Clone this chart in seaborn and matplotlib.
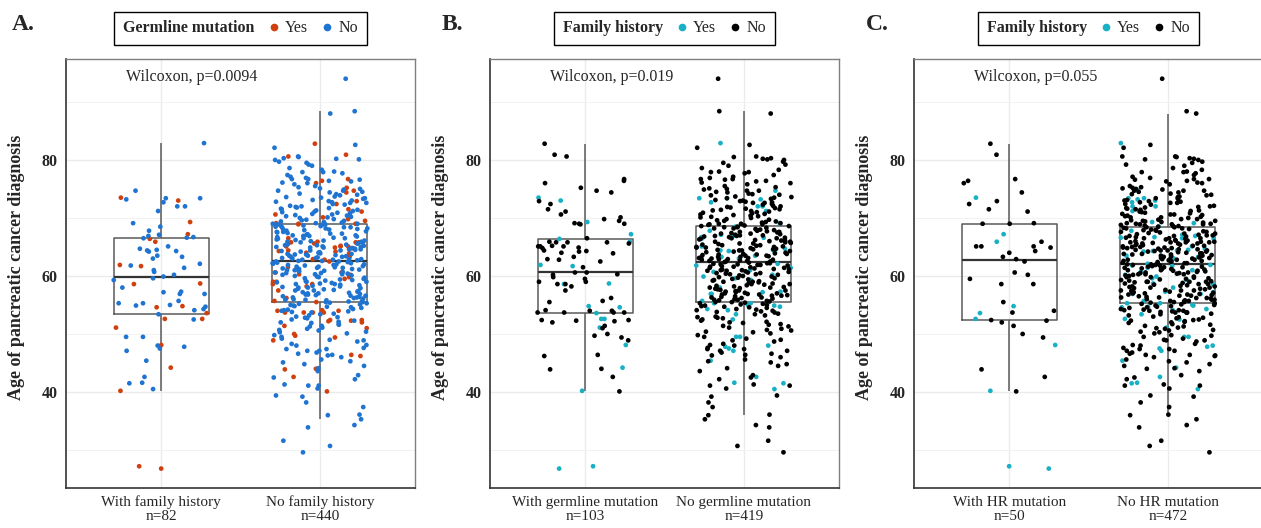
import numpy as np
import pandas as pd
import matplotlib
matplotlib.use("Agg")
import matplotlib.pyplot as plt
import seaborn as sns
from matplotlib.lines import Line2D

# Ages, one list per patient subgroup.
# FH = family history, GM = germline mutation, HR = HR-gene mutation (part of GM)
ages_fh_hr = [73.5, 67.2, 65.9, 54.8, 53.6, 52.6, 48.1, 40.2, 27.2, 26.8]
ages_fh_gm_other = [73.0, 69.3, 66.4, 61.9, 61.7, 58.7, 58.6, 54.6, 52.6, 51.1, 44.2]
ages_fh_no_gm = [82.9, 74.7, 73.4, 73.4, 73.2, 72.7, 72.0, 72.0, 71.2, 69.1,
                 68.5, 67.8, 67.1, 66.9, 66.7, 66.6, 66.5, 65.1, 64.7, 64.5,
                 64.4, 64.3, 64.2, 63.5, 63.3, 63.0, 62.1, 61.8, 61.4, 61.0,
                 60.7, 60.2, 59.9, 59.6, 59.3, 58.0, 57.3, 57.2, 56.9, 56.9,
                 55.7, 55.3, 55.3, 55.0, 54.9, 54.7, 54.3, 54.1, 53.4, 52.5,
                 49.5, 49.5, 48.0, 47.8, 47.5, 47.1, 45.4, 42.6, 41.6, 41.5, 40.5]
ages_hr = [82.8, 80.9, 76.7, 76.4, 76.0, 74.4, 72.9, 72.4, 71.5, 71.1,
           69.1, 69.0, 69.0, 65.9, 65.1, 65.1, 65.1, 64.9, 64.3, 64.0,
           63.3, 62.9, 62.5, 60.6, 60.2, 59.5, 58.6, 58.6, 55.5, 54.0,
           53.7, 52.4, 52.3, 52.0, 51.4, 50.0, 49.4, 43.9, 42.6, 40.1]
ages_gm_other = [80.6, 75.2, 74.7, 70.6, 70.1, 69.8, 69.5, 68.9, 66.5, 65.8,
                 65.8, 65.8, 65.6, 65.2, 64.8, 64.4, 64.2, 63.9, 62.8, 61.5,
                 60.6, 60.3, 59.8, 59.0, 59.0, 58.2, 57.5, 56.2, 55.7, 54.1,
                 54.0, 53.7, 53.7, 53.7, 52.2, 52.4, 51.0, 49.7, 48.9, 46.4,
                 46.2, 44.0]
ages_none = [94.0, 88.4, 88.0,
             82.6, 82.1, 80.6, 80.5, 80.3, 80.1, 80.0, 80.2,
             79.7, 79.5, 79.0, 78.6, 78.3, 77.9, 77.9, 77.7, 77.4, 77.1,
             76.9, 76.7, 76.7, 76.6, 76.3, 76.1, 76.0, 75.8, 75.5, 75.3,
             75.1, 75.0, 79.2, 78.0, 76.4,
             74.9, 74.7, 74.7, 74.5, 74.4, 74.2, 74.1, 73.9, 73.7, 73.6,
             73.4, 73.3, 73.1, 72.9, 72.8, 72.6, 72.6, 72.4, 72.3, 72.1,
             72.0, 71.9, 71.7, 71.6, 71.4, 71.3, 71.1, 71.0, 70.9, 70.8,
             70.6, 70.5, 70.4, 70.3, 70.2, 70.1, 70.0, 73.5, 72.7, 71.8,
             71.2, 70.7, 74.0, 73.0, 71.5,
             69.8, 69.6, 69.5, 69.3, 69.1, 69.0, 68.9, 68.9, 68.7, 68.5,
             68.4, 68.2, 68.1, 68.0, 67.9, 67.7, 67.6, 67.5, 67.3, 67.2,
             67.1, 67.0, 66.9, 66.8, 66.6, 66.5, 66.4, 66.2, 66.1, 66.0,
             65.9, 65.8, 65.6, 65.5, 65.4, 65.3, 65.2, 65.1, 65.0, 65.0,
             69.7, 69.2, 68.8, 68.6, 68.3, 67.8, 67.4, 66.7, 66.3, 65.7,
             69.4, 68.6, 67.9, 67.0, 66.5, 65.9, 65.3, 69.0, 68.2, 67.6,
             66.9, 66.1, 65.6, 68.4, 67.3,
             64.9, 64.8, 64.7, 64.5, 64.4, 64.3, 64.2, 64.0, 63.9, 63.8,
             63.7, 63.6, 63.5, 63.4, 63.3, 63.2, 63.1, 63.0, 62.9, 62.8,
             62.7, 62.6, 62.5, 62.4, 62.3, 62.2, 62.1, 62.0, 61.9, 61.8,
             61.7, 61.6, 61.5, 61.4, 61.3, 61.2, 61.1, 61.0, 60.9, 60.8,
             60.7, 60.6, 60.5, 60.4, 60.3, 60.2, 60.1, 60.0, 64.6, 64.1,
             63.8, 63.3, 62.9, 62.5, 62.0, 61.6, 61.0, 60.5, 64.9, 64.4,
             63.7, 63.1, 62.6, 62.2, 61.4, 60.9, 60.3, 64.6, 63.5, 62.8,
             61.9, 61.2,
             59.9, 59.7, 59.6, 59.4, 59.3, 59.0, 59.0, 58.8, 58.7, 58.5,
             58.3, 58.2, 58.0, 57.9, 57.7, 57.5, 57.5, 57.3, 57.1, 57.0,
             56.8, 56.8, 56.6, 56.5, 56.3, 56.2, 56.0, 55.9, 55.8, 55.6,
             55.5, 55.3, 55.2, 55.0, 59.8, 59.2, 58.6, 58.1, 57.6, 56.9,
             56.4, 55.7, 55.1, 59.5, 58.9, 58.4, 57.8, 57.2, 56.7, 56.1,
             55.4, 59.1, 58.0, 57.4, 56.6, 55.9, 58.6, 57.0, 56.3, 55.5,
             54.9, 54.7, 54.5, 54.3, 54.0, 53.8, 53.7, 53.5, 53.2, 53.0,
             52.8, 52.5, 52.3, 52.1, 51.9, 51.6, 51.4, 51.1, 50.9, 50.6,
             50.4, 50.1, 54.6, 54.1, 53.4, 52.7, 52.0, 51.3, 50.7, 54.8,
             53.9, 52.9, 51.7, 50.3, 54.2,
             49.8, 49.5, 49.2, 48.9, 48.7, 48.3, 48.0, 47.6, 47.4, 47.1,
             46.8, 46.6, 46.3, 46.0, 45.6, 45.3, 45.1, 49.0, 48.1, 47.4,
             47.1, 46.4,
             44.8, 44.5, 44.1, 43.6, 42.9, 42.5, 42.2, 41.3, 41.1, 41.1, 40.6,
             39.4, 39.2, 38.2, 37.4, 36.1, 36.0,
             35.3, 34.3, 33.9, 31.6, 30.7, 29.6]

group_names = {
    "fh": ["With family history", "No family history"],
    "gm": ["With germline mutation", "No germline mutation"],
    "hr": ["With HR mutation", "No HR mutation"],
}
p_values = ["Wilcoxon, p=0.0094", "Wilcoxon, p=0.019", "Wilcoxon, p=0.055"]

gm_colors = {"Yes": "#d0400f", "No": "#1f73d1"}
fh_colors = {"Yes": "#17b0c4", "No": "#000000"}

# one row per patient
subgroups = [
    (ages_fh_hr, "Yes", "Yes", "Yes"),
    (ages_fh_gm_other, "Yes", "Yes", "No"),
    (ages_fh_no_gm, "Yes", "No", "No"),
    (ages_hr, "No", "Yes", "Yes"),
    (ages_gm_other, "No", "Yes", "No"),
    (ages_none, "No", "No", "No"),
]
rows = []
for ages, fh, gm, hr in subgroups:
    for a in ages:
        rows.append({"age": a, "fh": fh, "gm": gm, "hr": hr})
df = pd.DataFrame(rows)

sns.set_style("white")
plt.rcParams["font.family"] = ["Liberation Serif", "DejaVu Serif"]

fig = plt.figure(figsize=(12.61, 5.28), dpi=100)
W, H = 1261, 528
panel_left = [66, 490, 914]
letter_x = [12, 442, 866]

panels = [
    ("A.", "fh", "gm", "Germline mutation", gm_colors),
    ("B.", "gm", "fh", "Family history", fh_colors),
    ("C.", "hr", "fh", "Family history", fh_colors),
]

np.random.seed(7)
for i, (letter, xcol, huecol, leg_title, palette) in enumerate(panels):
    ax = fig.add_axes([panel_left[i] / W, 1 - 488 / H, 349 / W, 429 / H])
    d = df.copy()
    counts = d[xcol].value_counts()
    labels = {k: f"{name}\nn={counts[k]}" for k, name in zip(["Yes", "No"], group_names[xcol])}
    d["group"] = d[xcol].map(labels)
    order = [labels["Yes"], labels["No"]]

    sns.boxplot(data=d, x="group", y="age", order=order, ax=ax, width=0.6,
                fill=False, color="#5a5a5a", linewidth=1.1, showcaps=False,
                showfliers=False, medianprops={"color": "#333333", "linewidth": 1.6})
    sns.stripplot(data=d, x="group", y="age", order=order, hue=huecol,
                  hue_order=["No", "Yes"], palette=palette, jitter=0.3,
                  size=3.4, linewidth=0, ax=ax, legend=False, zorder=3)

    ax.set_xlim(-0.6, 1.6)
    ax.set_ylim(23.45, 97.4)
    ax.set_yticks([40, 60, 80])
    ax.set_yticks([30, 50, 70, 90], minor=True)
    ax.set_axisbelow(True)
    ax.grid(which="major", color="#ebebeb", linewidth=1.0)
    ax.grid(which="minor", axis="y", color="#f2f2f2", linewidth=0.7)
    for side in ["left", "bottom"]:
        ax.spines[side].set_color("#333333")
        ax.spines[side].set_linewidth(1.2)
    for side in ["top", "right"]:
        ax.spines[side].set_color("#7f7f7f")
        ax.spines[side].set_linewidth(1.0)
    ax.tick_params(axis="both", which="major", length=4, width=0.8, color="#333333")
    ax.tick_params(axis="y", which="minor", length=0)
    ax.tick_params(axis="y", labelsize=11.5, pad=2)
    ax.tick_params(axis="x", labelsize=11, pad=1.5)
    for lbl in ax.get_yticklabels():
        lbl.set_fontweight("bold")
    for lbl in ax.get_xticklabels():
        lbl.set_linespacing(1.1)
    ax.set_xlabel("")
    ax.set_ylabel("Age of pancreatic cancer diagnosis", fontsize=13, fontweight="bold")
    ax.yaxis.set_label_coords(-0.1175, 0.515)

    ax.text(-0.22, 94.3, p_values[i], ha="left", va="center", fontsize=11.5)

    handles = [Line2D([0], [0], marker="o", linestyle="none", color=palette["Yes"], markersize=4.5),
               Line2D([0], [0], marker="o", linestyle="none", color=palette["No"], markersize=4.5)]
    leg = ax.legend(handles, ["Yes", "No"], ncol=2, loc="center", title=leg_title,
                    bbox_to_anchor=(0.5, (488 - 28.5) / 429), bbox_transform=ax.transAxes,
                    frameon=True, fancybox=False, framealpha=1, edgecolor="black",
                    fontsize=11.5, title_fontsize=11.5, handlelength=0.6,
                    handletextpad=0.4, columnspacing=1.3, borderpad=0.55)
    leg.get_frame().set_linewidth(1.0)
    leg.get_title().set_fontweight("bold")
    # put the legend title on the left of the keys, as in the original
    box = leg._legend_box
    title_box = leg._legend_title_box
    keys_box = leg._legend_handle_box
    box._children = [keys_box]
    keys_box._children.insert(0, title_box)
    keys_box.sep = 0.9 * 11.5

    fig.text(letter_x[i] / W, 1 - 25 / H, letter, fontsize=17, fontweight="bold",
             ha="left", va="center")

fig.savefig("out.png", dpi=100)
